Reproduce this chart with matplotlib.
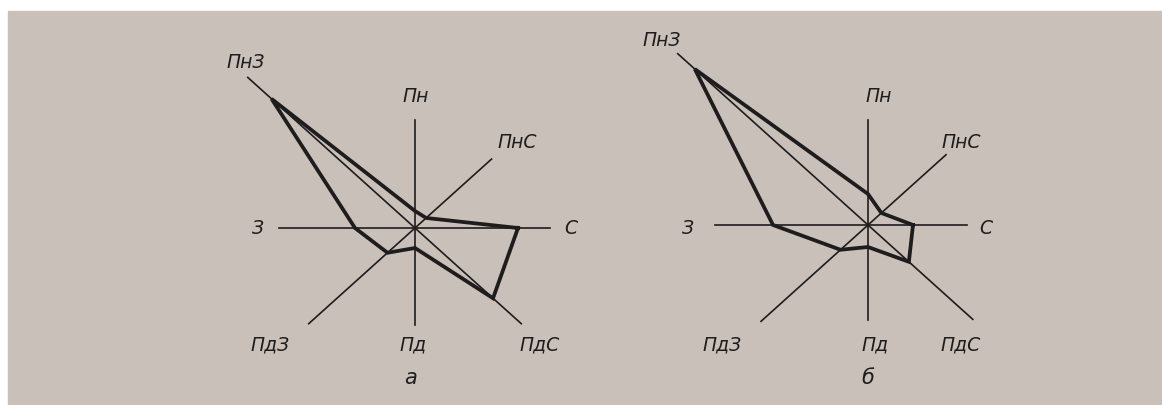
import numpy as np
import matplotlib.pyplot as plt
from matplotlib.patches import Rectangle

# wind directions (Ukrainian compass points) and their angles, degrees
directions = ["С", "ПнС", "Пн", "ПнЗ", "З", "ПдЗ", "Пд", "ПдС"]
angles = [0, 42, 90, 138, 180, 222, 270, 318]

# wind rose values (radius along each direction)
rose_a = [103, 15, 17, 193, 60, 37, 20, 105]
rose_b = [45, 18, 31, 233, 95, 37, 22, 55]

# lengths of the thin axis rays
rays_a = [135, 103, 108, 225, 136, 143, 97, 143]
rays_b = [99, 105, 105, 256, 153, 144, 95, 141]

ink = "#1e1c1c"
paper = "#c8c0b9"


def unit(deg):
    t = np.radians(deg)
    return np.cos(t), -np.sin(t)   # y goes down on the axes


def draw_rose(ax, cx, cy, radii, rays, labels, caption):
    # thin axes through the centre
    for ang, L in zip(angles, rays):
        ux, uy = unit(ang)
        ax.plot([cx, cx + ux * L], [cy, cy + uy * L], color=ink, lw=1.2, zorder=2)
    # the rose itself
    xs = [cx + unit(a)[0] * r for a, r in zip(angles, radii)]
    ys = [cy + unit(a)[1] * r for a, r in zip(angles, radii)]
    ax.plot(xs + xs[:1], ys + ys[:1], color=ink, lw=2.7, solid_joinstyle="miter", zorder=3)
    for name, (lx, ly) in labels.items():
        ax.text(lx, ly, name, fontsize=13.5, style="italic", color=ink,
                ha="center", va="center")
    ax.text(caption[0], caption[1], caption[2], fontsize=15, style="italic",
            color=ink, ha="center", va="center")


fig = plt.figure(figsize=(11.62, 4.05), dpi=100, facecolor="white")
ax = fig.add_axes([0, 0, 1, 1])
ax.set_xlim(0, 1162)
ax.set_ylim(405, 0)
ax.axis("off")
ax.add_patch(Rectangle((8, 11), 1154, 394, color=paper, zorder=0))

labels_a = {"ПнЗ": (246, 62), "Пн": (416, 97), "ПнС": (517, 142), "З": (258, 229),
            "С": (571, 229), "ПдЗ": (270, 345), "Пд": (413, 345), "ПдС": (540, 345)}
labels_b = {"ПнЗ": (662, 40), "Пн": (879, 97), "ПнС": (961, 142), "З": (688, 229),
            "С": (986, 229), "ПдЗ": (722, 345), "Пд": (875, 345), "ПдС": (961, 345)}

draw_rose(ax, 415, 228, rose_a, rays_a, labels_a, (411, 378, "а"))
draw_rose(ax, 868, 225, rose_b, rays_b, labels_b, (868, 378, "б"))

fig.savefig("out.png", dpi=100, facecolor="white")
